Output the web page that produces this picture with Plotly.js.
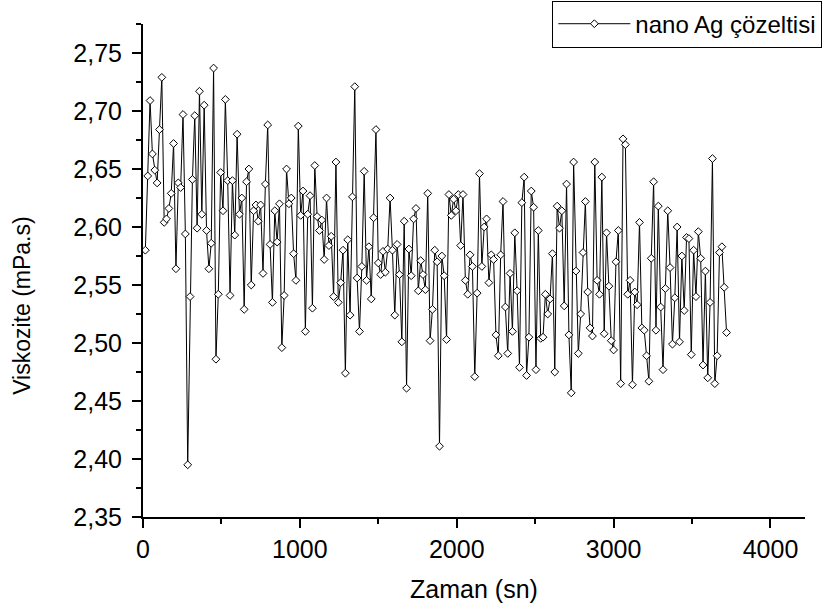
<!DOCTYPE html>
<html>
<head>
<meta charset="utf-8">
<script src="https://cdn.plot.ly/plotly-3.0.1.min.js"></script>
<style>html,body{margin:0;padding:0;background:#fff;}#chart{width:824px;height:609px;}</style>
</head>
<body>
<div id="chart"></div>
<script>
var seriesName = "nano Ag çözeltisi";
var xTitle = "Zaman (sn)";
var yTitle = "Viskozite (mPa.s)";

var timeSec = [
15,30,45,60,75,90,105,120,135,150,165,180,195,210,225,240,255,270,285,300,
315,330,345,360,375,390,405,420,435,450,465,480,495,510,525,540,555,570,585,600,
615,630,645,660,675,690,705,720,735,750,765,780,795,810,825,840,855,870,885,900,
915,930,945,960,975,990,1005,1020,1035,1050,1065,1080,1095,1110,1125,1140,1155,1170,1185,1200,
1215,1230,1245,1260,1275,1290,1305,1320,1335,1350,1365,1380,1395,1410,1425,1440,1455,1470,1485,1500,
1515,1530,1545,1560,1575,1590,1605,1620,1635,1650,1665,1680,1695,1710,1725,1740,1755,1770,1785,1800,
1815,1830,1845,1860,1875,1890,1905,1920,1935,1950,1965,1980,1995,2010,2025,2040,2055,2070,2085,2100,
2115,2130,2145,2160,2175,2190,2205,2220,2235,2250,2265,2280,2295,2310,2325,2340,2355,2370,2385,2400,
2415,2430,2445,2460,2475,2490,2505,2520,2535,2550,2565,2580,2595,2610,2625,2640,2655,2670,2685,2700,
2715,2730,2745,2760,2775,2790,2805,2820,2835,2850,2865,2880,2895,2910,2925,2940,2955,2970,2985,3000,
3015,3030,3045,3060,3075,3090,3105,3120,3135,3150,3165,3180,3195,3210,3225,3240,3255,3270,3285,3300,
3315,3330,3345,3360,3375,3390,3405,3420,3435,3450,3465,3480,3495,3510,3525,3540,3555,3570,3585,3600,
3615,3630,3645,3660,3675,3690,3705,3720
];

var viscosity = [
2.580,2.644,2.709,2.663,2.649,2.638,2.684,2.729,2.604,2.607,
2.616,2.629,2.672,2.564,2.638,2.634,2.697,2.594,2.395,2.540,
2.641,2.696,2.599,2.717,2.611,2.705,
2.597,2.564,2.586,2.737,2.486,2.542,2.647,2.614,2.710,2.640,
2.541,2.640,2.593,2.680,2.611,2.625,2.529,2.639,2.650,2.550,
2.614,2.619,2.605,2.619,2.560,2.637,2.688,2.585,
2.535,2.614,2.587,2.620,2.496,2.541,2.650,2.620,2.625,2.577,
2.554,2.687,2.610,2.631,2.510,2.611,2.627,2.530,2.653,2.609,
2.597,2.606,2.572,2.625,2.584,2.592,2.540,
2.656,2.535,2.552,2.580,2.474,2.589,2.524,2.626,2.721,2.556,
2.510,2.566,2.648,2.554,2.583,2.538,2.608,2.684,2.569,2.559,
2.579,2.561,2.581,2.625,2.580,2.524,2.585,2.559,
2.501,2.605,2.461,2.581,2.558,2.607,2.616,2.545,2.571,2.559,
2.546,2.629,2.502,2.529,2.580,2.570,2.411,2.575,2.558,2.503,
2.628,2.610,2.624,2.614,2.628,2.584,2.628,
2.554,2.542,2.576,2.566,2.471,2.543,2.646,2.566,2.600,2.607,
2.552,2.576,2.572,2.507,2.489,2.576,2.622,2.531,2.491,2.560,
2.510,2.595,2.545,2.479,2.621,2.643,2.472,
2.505,2.631,2.617,2.477,2.597,2.504,2.505,2.542,2.525,2.538,
2.577,2.475,2.618,2.599,2.614,2.532,2.637,2.507,2.457,2.656,
2.562,2.491,2.525,2.578,2.622,2.544,2.513,
2.506,2.656,2.554,2.542,2.643,2.508,2.595,2.549,2.502,2.494,
2.570,2.597,2.465,2.676,2.671,2.542,2.554,2.464,2.544,2.533,
2.604,2.513,2.511,2.489,2.467,2.573,2.639,
2.511,2.618,2.531,2.477,2.547,2.614,2.565,2.499,2.539,2.600,
2.501,2.575,2.528,2.591,2.590,2.490,2.580,2.540,2.596,2.573,
2.481,2.562,2.470,2.535,2.659,2.465,2.489,
2.578,2.583,2.548,2.509
];

var FONT = "'Liberation Sans', Arial, sans-serif";

var trace = {
  x: timeSec,
  y: viscosity,
  type: "scatter",
  mode: "lines+markers",
  name: seriesName,
  line: {color: "#000", width: 1},
  marker: {symbol: "diamond", size: 6, color: "#fff", line: {color: "#000", width: 1}}
};

var layout = {
  width: 824,
  height: 609,
  margin: {l: 143, r: 19, t: 24, b: 92, autoexpand: false},
  paper_bgcolor: "#fff",
  plot_bgcolor: "#fff",
  separators: ",.",
  font: {family: FONT, color: "#000", size: 25},
  showlegend: true,
  legend: {
    xref: "container", yref: "container",
    x: 0.998, y: 0.999, xanchor: "right", yanchor: "top",
    bordercolor: "#000", borderwidth: 1, bgcolor: "#fff",
    font: {family: FONT, size: 24, color: "#000"},
    itemwidth: 72,
    tracegroupgap: 0
  },
  xaxis: {
    range: [0, 4220],
    tick0: 0, dtick: 1000,
    showline: true, linecolor: "#000", linewidth: 2,
    ticks: "outside", ticklen: 9, tickwidth: 2, tickcolor: "#000",
    minor: {dtick: 500, ticks: "outside", ticklen: 5, tickwidth: 2, tickcolor: "#000", showgrid: false},
    showgrid: false, zeroline: false,
    tickfont: {family: FONT, size: 25, color: "#000"},
    title: {text: xTitle, font: {family: FONT, size: 25, color: "#000"}, standoff: 18}
  },
  yaxis: {
    range: [2.35, 2.775],
    tick0: 2.35, dtick: 0.05, tickformat: ".2f",
    showline: true, linecolor: "#000", linewidth: 2,
    ticks: "outside", ticklen: 9, tickwidth: 2, tickcolor: "#000",
    ticklabelstandoff: 5,
    minor: {dtick: 0.025, ticks: "outside", ticklen: 5, tickwidth: 2, tickcolor: "#000", showgrid: false},
    showgrid: false, zeroline: false,
    tickfont: {family: FONT, size: 25, color: "#000"}
  },
  annotations: [{
    text: yTitle,
    xref: "paper", yref: "paper",
    x: -0.183, y: 0.43,
    xanchor: "center", yanchor: "middle",
    textangle: -90,
    showarrow: false,
    font: {family: FONT, size: 23, color: "#000"}
  }]
};

Plotly.newPlot("chart", [trace], layout, {displayModeBar: false, staticPlot: true});
</script>
</body>
</html>
